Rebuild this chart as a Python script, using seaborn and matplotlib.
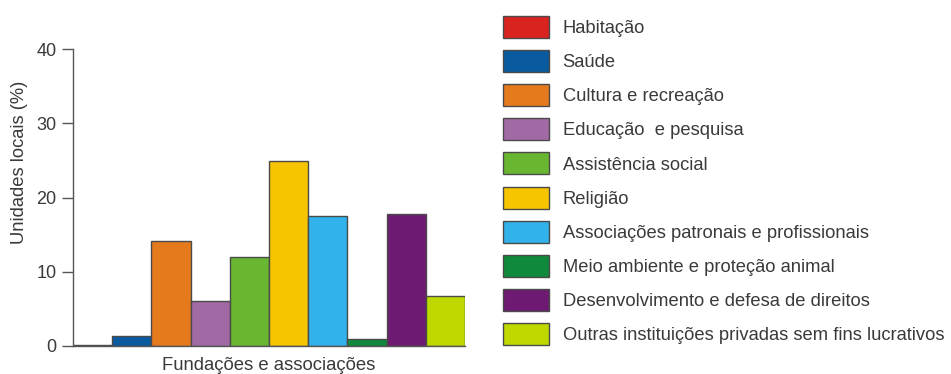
import matplotlib
matplotlib.use("Agg")
import matplotlib.pyplot as plt
import seaborn as sns
import pandas as pd

categories = [
    "Habitação",
    "Saúde",
    "Cultura e recreação",
    "Educação  e pesquisa",
    "Assistência social",
    "Religião",
    "Associações patronais e profissionais",
    "Meio ambiente e proteção animal",
    "Desenvolvimento e defesa de direitos",
    "Outras instituições privadas sem fins lucrativos",
]
values = [0.1, 1.35, 14.2, 6.1, 11.95, 25.0, 17.5, 0.9, 17.8, 6.7]
group = "Fundações e associações"
colors = ["#d9231f", "#0a5aa0", "#e57a1c", "#a26aa5", "#69b731",
          "#f7c400", "#31b2ea", "#0f8a3c", "#6e1a72", "#bfd800"]
yticks = [0, 10, 20, 30, 40]

df = pd.DataFrame({"grupo": [group] * len(categories),
                   "categoria": categories, "valor": values})

sns.set_style("white")
plt.rcParams["font.family"] = ["Liberation Sans", "DejaVu Sans"]
text_color = "#3a3a3a"
axis_color = "#555555"

fig = plt.figure(figsize=(9.51, 3.74), dpi=100)
ax = fig.add_axes([73 / 951, 1 - 346 / 374, (465 - 73) / 951, (346 - 49.3) / 374])

sns.barplot(data=df, x="grupo", y="valor", hue="categoria",
            hue_order=categories, palette=colors, width=0.8,
            edgecolor="#4a4a4a", linewidth=1.0, saturation=1, ax=ax)

ax.set_xlim(-0.4, 0.4)
ax.set_ylim(0, 40)
ax.set_yticks(yticks)
for s in ["top", "right"]:
    ax.spines[s].set_visible(False)
for s in ["left", "bottom"]:
    ax.spines[s].set_color(axis_color)
    ax.spines[s].set_linewidth(1.0)

ax.tick_params(axis="y", length=8, width=1.0, color=axis_color,
               labelsize=13, labelcolor=text_color, pad=4, direction="out", left=True)
ax.tick_params(axis="x", length=0, labelsize=13.3, labelcolor=text_color, pad=8)
ax.set_xlabel("")
ax.set_ylabel("Unidades locais (%)", fontsize=13.2, color=text_color)
ax.yaxis.set_label_coords(-0.115, 0.62)

handles, labels = ax.get_legend_handles_labels()
if ax.get_legend() is not None:
    ax.get_legend().remove()
fig.legend(handles, labels, loc="upper left",
           bbox_to_anchor=(503 / 951, 1 - 16 / 374),
           bbox_transform=fig.transFigure, frameon=False,
           fontsize=13.2, handlelength=2.5, handleheight=1.47,
           labelspacing=0.66, handletextpad=0.75, borderpad=0,
           borderaxespad=0, labelcolor=text_color)

fig.savefig("out.png", dpi=100)
